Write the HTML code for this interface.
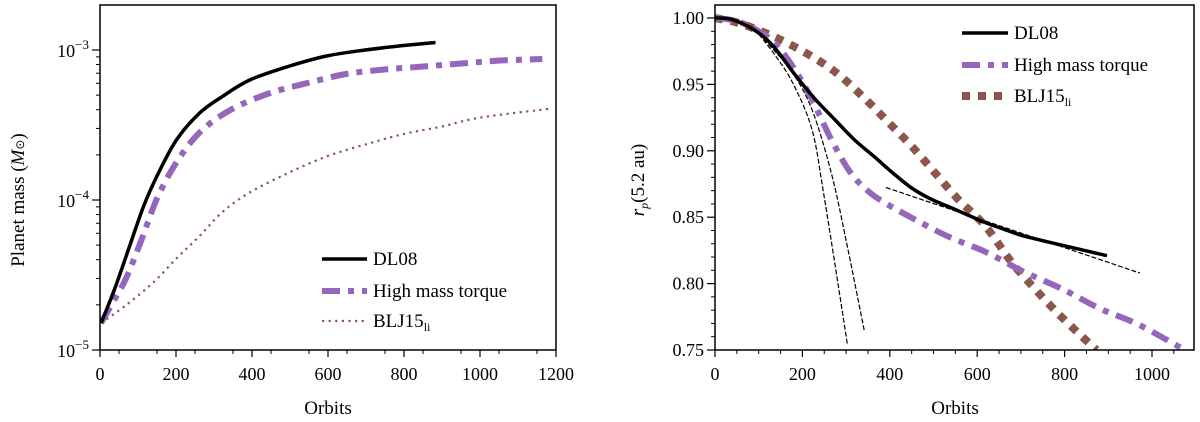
<!DOCTYPE html>
<html><head><meta charset="utf-8"><style>
body{margin:0;background:#fff;}
svg{display:block;font-family:"Liberation Serif",serif;}
</style></head><body>
<svg id="c" width="1200" height="422"></svg>
<script>
// ---- Left panel data ----
const leftDL08X=[3,39,79,115,150,201,262,322,394,495,596,698,799,883];
const leftDL08Y=[-4.82,-4.59,-4.30,-4.04,-3.84,-3.60,-3.42,-3.31,-3.20,-3.11,-3.04,-3.00,-2.97,-2.95];
const leftHMTX=[3,39,69,110,150,201,262,343,444,546,647,748,850,951,1053,1164];
const leftHMTY=[-4.82,-4.66,-4.52,-4.26,-3.99,-3.75,-3.55,-3.40,-3.29,-3.22,-3.16,-3.13,-3.11,-3.09,-3.07,-3.06];
const leftBLJX=[3,69,140,201,262,322,394,495,596,698,799,900,1002,1190];
const leftBLJY=[-4.82,-4.70,-4.55,-4.39,-4.24,-4.08,-3.95,-3.82,-3.71,-3.63,-3.56,-3.51,-3.45,-3.39];
const leftXTicks=[0,200,400,600,800,1000,1200];
const leftYTicks=[-5,-4,-3];
// ---- Right panel data ----
const rDL08X=[0,37,90,134,186,230,274,318,363,406,450,494,538,583,618,661,705,793,897];
const rDL08Y=[1.0,0.999,0.991,0.9785,0.956,0.9386,0.9236,0.9086,0.896,0.8836,0.872,0.8636,0.8575,0.851,0.846,0.841,0.836,0.829,0.821];
const rHMTX=[0,46,90,134,178,222,266,310,354,398,442,530,618,706,794,882,970,1075];
const rHMTY=[1.0,0.998,0.992,0.982,0.9635,0.9386,0.9086,0.8836,0.8686,0.859,0.851,0.836,0.824,0.809,0.796,0.781,0.769,0.75];
const rBLJX=[0,46,90,151,222,283,345,398,450,503,556,618,679,732,785,837,873];
const rBLJY=[1.0,0.997,0.992,0.9835,0.971,0.9574,0.9386,0.921,0.9035,0.8836,0.8636,0.8436,0.816,0.796,0.7775,0.761,0.75];
const rFit1X=[90,134,178,222,248,283,303];
const rFit1Y=[0.992,0.9735,0.951,0.916,0.869,0.7965,0.754];
const rFit2X=[90,134,178,222,266,301,342];
const rFit2Y=[0.992,0.976,0.9585,0.931,0.8836,0.831,0.7637];
const rFit3X=[391,972];
const rFit3Y=[0.8724,0.808];
const rXTicks=[0,200,400,600,800,1000];
const rYTicks=[0.75,0.80,0.85,0.90,0.95,1.00];

const NS="http://www.w3.org/2000/svg";
const svg=document.getElementById('c');
function el(t,a,p){const e=document.createElementNS(NS,t);for(const k in a)e.setAttribute(k,a[k]);(p||svg).appendChild(e);return e;}

const L={x0:100,x1:556,y0:350,y1:5};
const lx=v=>L.x0+(v/1200)*(L.x1-L.x0);
const ly=v=>350-(v+5)*150;
const R={x0:715,x1:1194,y0:350,y1:5};
const rx=v=>715+v*0.437;
const ry=v=>18+(1.0-v)/0.25*332;

const sDL={stroke:'#000','stroke-width':3.5};
const sHM={stroke:'#9467bd','stroke-width':6,'stroke-dasharray':'18 8 6 8'};
const sBL={stroke:'#8c564b','stroke-width':2.2,'stroke-dasharray':'2.2 4.4'};
const sBLr={stroke:'#8c564b','stroke-width':8,'stroke-dasharray':'8 8'};
const sFit={stroke:'#000','stroke-width':1.2,'stroke-dasharray':'5 2'};

const defs=el('defs',{});
const c1=el('clipPath',{id:'cl'},defs);el('rect',{x:L.x0,y:L.y1,width:L.x1-L.x0,height:L.y0-L.y1},c1);
const c2=el('clipPath',{id:'cr'},defs);el('rect',{x:R.x0,y:R.y1,width:R.x1-R.x0,height:R.y0-R.y1},c2);

function smoothPath(pts){
  if(pts.length<3)return pts.map((p,i)=>(i?'L':'M')+p[0].toFixed(1)+' '+p[1].toFixed(1)).join(' ');
  let d='M'+pts[0][0].toFixed(1)+' '+pts[0][1].toFixed(1);
  for(let i=0;i<pts.length-1;i++){
    const p0=pts[Math.max(0,i-1)],p1=pts[i],p2=pts[i+1],p3=pts[Math.min(pts.length-1,i+2)];
    const c1x=p1[0]+(p2[0]-p0[0])/6,c1y=p1[1]+(p2[1]-p0[1])/6;
    const c2x=p2[0]-(p3[0]-p1[0])/6,c2y=p2[1]-(p3[1]-p1[1])/6;
    d+=' C'+c1x.toFixed(1)+' '+c1y.toFixed(1)+' '+c2x.toFixed(1)+' '+c2y.toFixed(1)+' '+p2[0].toFixed(1)+' '+p2[1].toFixed(1);
  }
  return d;
}
function lineIn(g,xs,ys,fx,fy,style,name){
  const pts=xs.map((x,i)=>[fx(x),fy(ys[i])]);
  const p=el('path',Object.assign({d:smoothPath(pts),fill:'none','stroke-linejoin':'round'},style),g);
  
  
}
const gl=el('g',{'clip-path':'url(#cl)'});

lineIn(gl,leftBLJX,leftBLJY,lx,ly,sBL,'left-blj15-line');
lineIn(gl,leftHMTX,leftHMTY,lx,ly,sHM,'left-high-mass-torque-line');
lineIn(gl,leftDL08X,leftDL08Y,lx,ly,sDL,'left-dl08-line');

const gr=el('g',{'clip-path':'url(#cr)'});

lineIn(gr,rFit1X,rFit1Y,rx,ry,sFit,'fit-line-1');
lineIn(gr,rFit2X,rFit2Y,rx,ry,sFit,'fit-line-2');
lineIn(gr,rFit3X,rFit3Y,rx,ry,sFit,'fit-line-3');
lineIn(gr,rBLJX,rBLJY,rx,ry,sBLr,'right-blj15-line');
lineIn(gr,rHMTX,rHMTY,rx,ry,sHM,'right-high-mass-torque-line');
lineIn(gr,rDL08X,rDL08Y,rx,ry,sDL,'right-dl08-line');

function frame(A,name){const r=el('rect',{x:A.x0,y:A.y1,width:A.x1-A.x0,height:A.y0-A.y1,fill:'none',stroke:'#000','stroke-width':1.5});
}
frame(L,'left-axes-frame');frame(R,'right-axes-frame');

function txt(x,y,s,anchor,size,name,rot){
  const t=el('text',{x:x,y:y,'text-anchor':anchor,'font-size':size,fill:'#000'});
  if(rot)t.setAttribute('transform',rot);
  t.innerHTML=s;
  
  return t;
}
leftXTicks.forEach(v=>{el('line',{x1:lx(v),x2:lx(v),y1:350,y2:357,stroke:'#000','stroke-width':1.2});txt(lx(v),380,v,'middle',18,'left-x-tick-label');});
for(let v=50;v<1200;v+=100)el('line',{x1:lx(v),x2:lx(v),y1:350,y2:354,stroke:'#000','stroke-width':1});
leftYTicks.forEach(v=>{el('line',{x1:L.x0-8,x2:L.x0,y1:ly(v),y2:ly(v),stroke:'#000','stroke-width':1.2});
 txt(L.x0-11,ly(v)+7,'10<tspan dy="-8" font-size="13">−'+(-v)+'</tspan>','end',18,'left-y-tick-label');});
for(let dec=-5;dec<-2;dec++)for(let m=2;m<10;m++){const v=dec+Math.log10(m);if(ly(v)<L.y1)continue;
 el('line',{x1:L.x0-4,x2:L.x0,y1:ly(v),y2:ly(v),stroke:'#000','stroke-width':1});}
txt(328,414,'Orbits','middle',19,'left-x-axis-title');
txt(24,200,'Planet mass (<tspan font-style="italic">M</tspan><tspan font-size="12">⊙</tspan>)','middle',19,'left-y-axis-title','rotate(-90 24 200)');

rXTicks.forEach(v=>{el('line',{x1:rx(v),x2:rx(v),y1:350,y2:357,stroke:'#000','stroke-width':1.2});txt(rx(v),380,v,'middle',18,'right-x-tick-label');});
for(let v=50;v<1100;v+=50)if(v%200)el('line',{x1:rx(v),x2:rx(v),y1:350,y2:354,stroke:'#000','stroke-width':1});
rYTicks.forEach(v=>{el('line',{x1:R.x0-8,x2:R.x0,y1:ry(v),y2:ry(v),stroke:'#000','stroke-width':1.2});
 txt(R.x0-11,ry(v)+6,v.toFixed(2),'end',18,'right-y-tick-label');});
for(let v=0.76;v<1.005;v+=0.01){if(Math.abs(v*20-Math.round(v*20))<0.01)continue;
 el('line',{x1:R.x0-4,x2:R.x0,y1:ry(v),y2:ry(v),stroke:'#000','stroke-width':1});}
txt(955,414,'Orbits','middle',19,'right-x-axis-title');
txt(644,180,'<tspan font-style="italic">r</tspan><tspan font-style="italic" font-size="12" dy="4">p</tspan><tspan dy="-4">(5.2 au)</tspan>','middle',19,'right-y-axis-title','rotate(-90 644 180)');

function legend(x1,x2,y,style,label,name){
  const g=el('g',{});
  el('line',Object.assign({x1:x1,x2:x2,y1:y,y2:y},style),g);
  const t=el('text',{x:x2+6,y:y+6,'font-size':19},g);t.innerHTML=label;
}
const blj='BLJ15<tspan font-size="12" dy="4">li</tspan>';
legend(322,367,259,sDL,'DL08','left-legend-dl08');
legend(322,367,291,sHM,'High mass torque','left-legend-hmt');
legend(322,367,321,sBL,blj,'left-legend-blj15');
legend(962,1008,33,sDL,'DL08','right-legend-dl08');
legend(962,1008,65,sHM,'High mass torque','right-legend-hmt');
legend(962,1008,96,sBLr,blj,'right-legend-blj15');
</script>
</body></html>
